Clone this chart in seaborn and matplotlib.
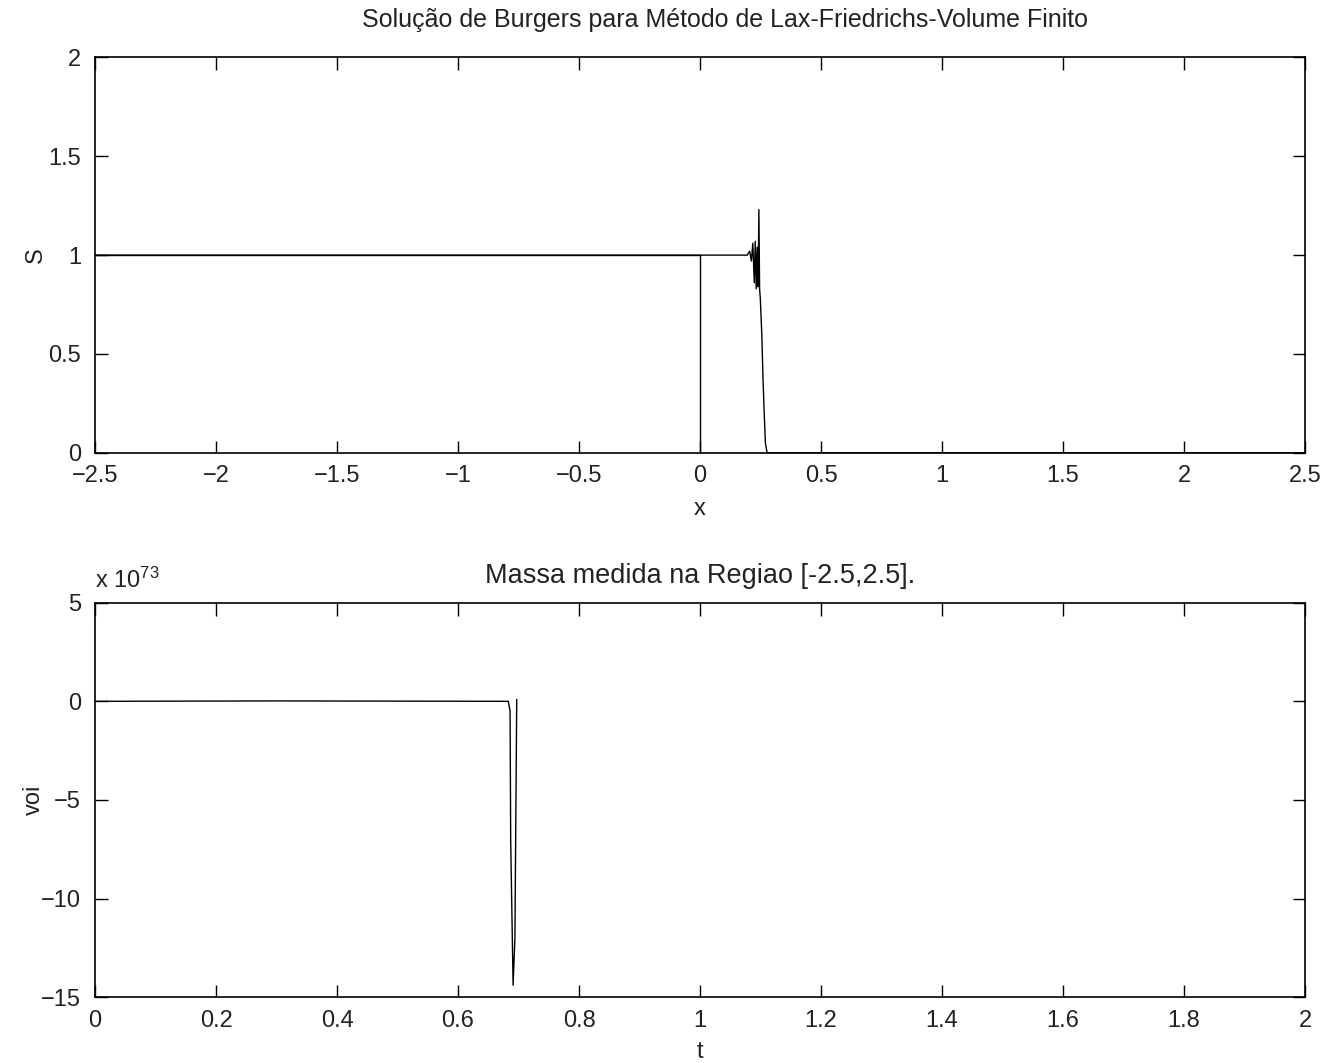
import matplotlib
matplotlib.use("Agg")
import matplotlib.pyplot as plt
import seaborn as sns
import pandas as pd

# ---- data ----
# initial condition (step)
x_ini = [-2.5, 0.0, 0.0, 2.5]
S_ini = [1.0, 1.0, 0.0, 0.0]
# numerical solution (Lax-Friedrichs finite volume)
x_num = [-2.5, 0.195, 0.205, 0.212, 0.218, 0.224, 0.228, 0.232, 0.236,
         0.240, 0.243, 0.246, 0.249, 0.255, 0.260, 0.265,
         0.270, 0.277, 2.5]
S_num = [1.0, 1.0, 1.02, 0.97, 1.06, 0.86, 1.07, 0.83, 1.04,
         0.84, 1.23, 0.83, 0.78, 0.60, 0.38, 0.20,
         0.05, 0.0, 0.0]
# measured mass (units of 1e73)
t_vol = [0.0, 0.30, 0.683, 0.686, 0.687, 0.691, 0.694, 0.697]
vol = [0.0, 0.02, 0.0, -0.5, -7.0, -14.4, -12.0, 0.1]

top_xticks = [-2.5, -2, -1.5, -1, -0.5, 0, 0.5, 1, 1.5, 2, 2.5]
top_xticklabels = ["\u22122.5", "\u22122", "\u22121.5", "\u22121", "\u22120.5", "0",
                   "0.5", "1", "1.5", "2", "2.5"]
top_yticks = [0, 0.5, 1, 1.5, 2]
top_yticklabels = ["0", "0.5", "1", "1.5", "2"]
bot_xticks = [0, 0.2, 0.4, 0.6, 0.8, 1, 1.2, 1.4, 1.6, 1.8, 2]
bot_xticklabels = ["0", "0.2", "0.4", "0.6", "0.8", "1", "1.2", "1.4", "1.6", "1.8", "2"]
bot_yticks = [-15, -10, -5, 0, 5]
bot_yticklabels = ["\u221215", "\u221210", "\u22125", "0", "5"]

title_top = "Solução de Burgers para Método de Lax-Friedrichs-Volume Finito"
title_bot = "Massa medida na Regiao [-2.5,2.5]."

# ---- style ----
sns.set_style("white")
plt.rcParams["font.family"] = ["Liberation Sans", "DejaVu Sans"]
plt.rcParams["mathtext.fontset"] = "custom"
plt.rcParams["mathtext.rm"] = "Liberation Sans"
plt.rcParams["mathtext.it"] = "Liberation Sans"
plt.rcParams["axes.unicode_minus"] = True

fig = plt.figure(figsize=(13.25, 10.63), dpi=100)
ax1 = fig.add_axes([0.0717, 0.574, 0.9133, 0.372])
ax2 = fig.add_axes([0.0717, 0.062, 0.9133, 0.371])

df_ini = pd.DataFrame({"x": x_ini, "S": S_ini})
df_num = pd.DataFrame({"x": x_num, "S": S_num})
df_vol = pd.DataFrame({"t": t_vol, "voi": vol})

lw = 1.0
txtc = "#222222"
fs = 17
sns.lineplot(data=df_ini, x="x", y="S", sort=False, estimator=None, ax=ax1,
             color="black", linewidth=lw)
sns.lineplot(data=df_num, x="x", y="S", sort=False, estimator=None, ax=ax1,
             color="black", linewidth=lw)
sns.lineplot(data=df_vol, x="t", y="voi", sort=False, estimator=None, ax=ax2,
             color="black", linewidth=lw)

for ax in (ax1, ax2):
    for sp in ax.spines.values():
        sp.set_visible(True)
        sp.set_color("black")
        sp.set_linewidth(1.2)
    ax.tick_params(direction="in", length=9, width=1, top=True, right=True,
                   bottom=True, left=True, labelsize=fs, colors="black",
                   labelcolor=txtc)
    ax.tick_params(axis="y", pad=10)
    ax.tick_params(axis="x", pad=9)
    ax.grid(False)

ax1.set_xlim(-2.5, 2.5)
ax1.set_ylim(0, 2)
ax1.set_xticks(top_xticks)
ax1.set_xticklabels(top_xticklabels)
ax1.set_yticks(top_yticks)
ax1.set_yticklabels(top_yticklabels)
ax1.set_xlabel("x", fontsize=fs, color=txtc, labelpad=8)
ax1.set_ylabel("S", fontsize=fs, color=txtc, labelpad=1)
ax1.set_title(title_top, fontsize=18, color=txtc, pad=22, x=0.521)

ax2.set_xlim(0, 2)
ax2.set_ylim(-15, 5)
ax2.set_xticks(bot_xticks)
ax2.set_xticklabels(bot_xticklabels)
ax2.set_yticks(bot_yticks)
ax2.set_yticklabels(bot_yticklabels)
ax2.set_xlabel("t", fontsize=fs, color=txtc, labelpad=7)
ax2.set_ylabel("voi", fontsize=fs, color=txtc, labelpad=-3)
ax2.set_title(title_bot, fontsize=19.5, color=txtc, pad=14)
ax2.text(0.0, 1.025, "x 10$^{73}$", transform=ax2.transAxes, fontsize=fs,
         color=txtc, ha="left", va="bottom")

fig.savefig("out.png", dpi=100)
